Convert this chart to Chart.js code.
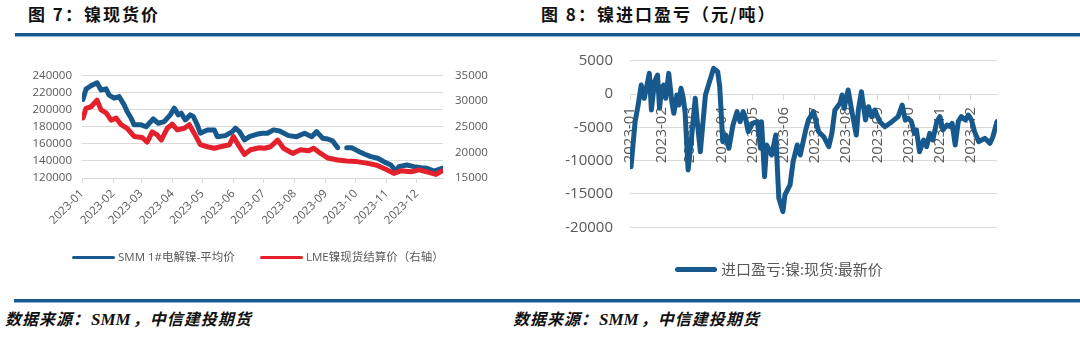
<!DOCTYPE html>
<html><head><meta charset="utf-8">
<script src="https://cdn.jsdelivr.net/npm/chart.js@4"></script>
<style>
body{margin:0;width:1080px;height:339px;background:#fff;position:relative;overflow:hidden;font-family:"Open Sans","Noto Sans CJK SC",sans-serif;}
canvas{position:absolute;top:0;}
.title{position:absolute;top:3px;font-family:"Noto Sans CJK SC";font-weight:700;font-size:17px;letter-spacing:2px;color:#111;line-height:22px;white-space:nowrap;}
.rule{position:absolute;height:3px;background:#17588E;border-bottom:1px solid #8DB2D4;}
.src{position:absolute;top:308px;font-family:"Noto Sans CJK SC";font-weight:700;font-style:italic;font-size:16px;letter-spacing:1px;color:#111;line-height:20px;white-space:nowrap;}
.src i{font-family:"Liberation Serif";font-weight:700;font-size:17px;letter-spacing:0;margin:0 2px 0 1px;}
.leg{position:absolute;white-space:nowrap;color:#595959;font-family:"Open Sans","Noto Sans CJK SC",sans-serif;}
.sw{position:absolute;border-radius:3px;}
</style></head>
<body>
<div class="title" style="left:28px;">图 7：镍现货价</div>
<div class="title" style="left:541px;">图 8：镍进口盈亏（元/吨）</div>
<div class="rule" style="left:15px;top:33px;width:525px;"></div>
<div class="rule" style="left:540px;top:33px;width:540px;"></div>
<div class="rule" style="left:14px;top:299px;width:526px;"></div>
<div class="rule" style="left:540px;top:299px;width:540px;"></div>
<div class="src" style="left:5px;">数据来源：<i>SMM</i>，中信建投期货</div>
<div class="src" style="left:513px;">数据来源：<i>SMM</i>，中信建投期货</div>

<canvas id="c1" width="540" height="300" style="left:0;width:540px;height:300px;"></canvas>
<canvas id="c2" width="540" height="300" style="left:540px;width:540px;height:300px;"></canvas>

<div class="sw" style="left:72px;top:255.5px;width:43px;height:3px;background:#17598C;"></div>
<div class="leg" style="left:118px;top:249px;font-size:11.5px;line-height:16px;">SMM 1#电解镍-平均价</div>
<div class="sw" style="left:260px;top:255.5px;width:43px;height:3px;background:#E3202B;"></div>
<div class="leg" style="left:306px;top:249px;font-size:11.5px;line-height:16px;">LME镍现货结算价（右轴）</div>

<div class="sw" style="left:675px;top:266.5px;width:42px;height:5px;background:#17598C;"></div>
<div class="leg" style="left:721px;top:258px;font-size:15px;line-height:22px;">进口盈亏:镍:现货:最新价</div>

<script>
const monthLabels = ['2023-01','2023-02','2023-03','2023-04','2023-05','2023-06','2023-07','2023-08','2023-09','2023-10','2023-11','2023-12'];

const smmDates = ['2023-01-02','2023-01-05','2023-01-10','2023-01-16','2023-01-20','2023-01-25','2023-01-28','2023-02-02','2023-02-07','2023-02-12','2023-02-15','2023-02-19','2023-02-22','2023-03-01','2023-03-06','2023-03-13','2023-03-18','2023-03-24','2023-03-30','2023-04-03','2023-04-07','2023-04-10','2023-04-14','2023-04-19','2023-04-22','2023-04-26','2023-04-29','2023-05-06','2023-05-13','2023-05-16','2023-05-24','2023-05-31','2023-06-03','2023-06-07','2023-06-12','2023-06-17','2023-06-24','2023-06-30','2023-07-05','2023-07-11','2023-07-17','2023-07-26','2023-08-03','2023-08-11','2023-08-18','2023-08-23','2023-08-29','2023-09-03','2023-09-08','2023-09-13','2023-09-18','2023-09-22','2023-09-27','2023-10-03','2023-10-10','2023-10-16','2023-10-23','2023-10-29','2023-11-05','2023-11-10','2023-11-13','2023-11-21','2023-11-28','2023-12-05','2023-12-11','2023-12-18','2023-12-26'];
const smmValues = [212000,224000,228000,231500,223000,224400,217000,213500,215400,205600,197800,190000,182200,182200,180000,189200,184100,186000,193900,201800,193900,195900,188000,193900,192000,182200,172400,176300,176300,168400,169600,174300,178300,174300,164600,168400,171200,172400,172400,176300,175100,169600,168400,172400,168400,174300,166600,165700,163400,155500,null,155500,155500,151700,147800,145000,143100,139100,135200,128200,133300,135200,133300,132100,131400,128200,131400];

const lmeDates = ['2023-01-02','2023-01-05','2023-01-10','2023-01-16','2023-01-20','2023-01-25','2023-01-30','2023-02-04','2023-02-09','2023-02-15','2023-02-22','2023-03-02','2023-03-07','2023-03-12','2023-03-17','2023-03-21','2023-03-27','2023-04-01','2023-04-06','2023-04-13','2023-04-18','2023-04-23','2023-04-29','2023-05-06','2023-05-13','2023-05-19','2023-05-28','2023-06-01','2023-06-07','2023-06-12','2023-06-18','2023-06-27','2023-07-02','2023-07-08','2023-07-15','2023-07-21','2023-07-30','2023-08-07','2023-08-15','2023-08-20','2023-08-27','2023-09-03','2023-09-13','2023-09-22','2023-10-02','2023-10-12','2023-10-22','2023-11-01','2023-11-08','2023-11-15','2023-11-25','2023-12-03','2023-12-11','2023-12-20','2023-12-26'];
const lmeValues = [26700,28600,28900,30200,28300,27700,26300,26700,25400,24700,23100,22900,22000,24000,23400,22400,24700,25500,24400,24700,25400,23700,21500,21100,20800,21100,21500,23100,21100,19600,20500,20900,20800,21100,22400,20800,19800,20500,20300,20800,19800,18900,18500,18300,18200,17900,17500,16600,15900,16400,16200,16600,16200,15700,16400];

const importDates = ['2023-01-02','2023-01-06','2023-01-09','2023-01-12','2023-01-15','2023-01-17','2023-01-20','2023-01-22','2023-01-25','2023-01-28','2023-01-30','2023-02-01','2023-02-03','2023-02-05','2023-02-08','2023-02-11','2023-02-13','2023-02-16','2023-02-18','2023-02-20','2023-02-22','2023-02-24','2023-02-27','2023-03-02','2023-03-06','2023-03-08','2023-03-11','2023-03-16','2023-03-19','2023-03-24','2023-03-28','2023-03-30','2023-04-02','2023-04-05','2023-04-08','2023-04-12','2023-04-16','2023-04-19','2023-04-22','2023-04-24','2023-04-27','2023-05-01','2023-05-06','2023-05-09','2023-05-10','2023-05-13','2023-05-15','2023-05-20','2023-05-24','2023-05-27','2023-05-31','2023-06-02','2023-06-07','2023-06-10','2023-06-14','2023-06-17','2023-06-22','2023-06-25','2023-06-30','2023-07-05','2023-07-10','2023-07-15','2023-07-18','2023-07-21','2023-07-26','2023-07-28','2023-07-30','2023-08-03','2023-08-07','2023-08-11','2023-08-13','2023-08-16','2023-08-20','2023-08-23','2023-08-26','2023-08-29','2023-09-03','2023-09-08','2023-09-15','2023-09-21','2023-09-25','2023-09-28','2023-10-01','2023-10-04','2023-10-07','2023-10-09','2023-10-12','2023-10-16','2023-10-19','2023-10-22','2023-10-25','2023-10-29','2023-11-01','2023-11-04','2023-11-08','2023-11-11','2023-11-13','2023-11-16','2023-11-19','2023-11-22','2023-11-26','2023-11-29','2023-12-02','2023-12-05','2023-12-09','2023-12-12','2023-12-15','2023-12-20','2023-12-23','2023-12-27'];
const importValues = [-10900,-4150,-1650,1350,-650,850,3100,-2400,1850,2850,-2150,850,1350,-650,3100,-1150,-2900,-150,-1650,850,-400,-2650,-11400,-7150,-650,-4150,-8650,-150,1350,3850,3350,1100,-7150,-6150,-8150,-4650,-2650,-4150,-2650,-3400,-5650,-4400,-4150,-8150,-4150,-12400,-7650,-9150,-6150,-15650,-17650,-15150,-13650,-10150,-7650,-9150,-5650,-3900,-2650,-5650,-6400,-7900,-5900,-2400,-1400,-150,-2150,600,-2900,-6150,-2400,350,-3900,-1900,-3400,-2400,-4150,-4900,-4150,-3400,-1650,-3900,-3650,-4150,-5900,-5400,-8650,-6900,-7900,-5900,-6900,-4150,-3400,-5400,-4650,-4900,-4400,-7650,-4150,-3400,-3900,-3150,-3900,-5650,-7150,-6900,-6650,-7400,-6400,-4150];

const BLUE = '#17598C', RED = '#E3202B', GRID = '#D9D9D9', TXT = '#595959';
const FONT = '"Open Sans","Noto Sans CJK SC",sans-serif';
const DAY = d => (Date.UTC(+d.slice(0,4), +d.slice(5,7)-1, +d.slice(8,10)) - Date.UTC(2023,0,1)) / 86400000;
const pts = (dates, vals) => dates.map((d,i) => ({x: DAY(d), y: vals[i]}));
const monthTicks = s => { s.ticks = monthLabels.map(m => ({value: DAY(m + '-01')})); };
const plain = v => String(v);

new Chart(document.getElementById('c1'), {
  type: 'line',
  data: { datasets: [
    {label:'SMM 1#电解镍-平均价', data: pts(smmDates, smmValues), yAxisID:'y', borderColor: BLUE, borderWidth: 5, pointRadius: 0, spanGaps: false, order: 1, borderJoinStyle:'round', borderCapStyle:'round'},
    {label:'LME镍现货结算价（右轴）', data: pts(lmeDates, lmeValues), yAxisID:'y2', borderColor: RED, borderWidth: 5, pointRadius: 0, order: 0, borderJoinStyle:'round', borderCapStyle:'round'}
  ]},
  options: {
    responsive: false, animation: false, devicePixelRatio: 1,
    layout: {padding: {top: 75.5, left: 0, right: 0, bottom: 0}},
    plugins: {legend: {display: false}, tooltip: {enabled: false}},
    scales: {
      x: {type:'linear', min: 0, max: 360, afterBuildTicks: monthTicks,
          ticks: {autoSkip: false, minRotation: 45, maxRotation: 45, padding: 4, color: TXT, font: {family: FONT, size: 11.5}, callback: (v, i) => monthLabels[i]},
          grid: {drawOnChartArea: false, color: GRID, tickLength: 5}, border: {color: GRID},
          afterFit: s => { s.height = 122; }},
      y: {position: 'left', min: 120000, max: 240000,
          ticks: {stepSize: 20000, padding: 10, color: TXT, font: {family: FONT, size: 11.5}, callback: plain},
          grid: {color: GRID, drawTicks: false}, border: {display: false},
          afterFit: s => { s.width = 82; }},
      y2: {position: 'right', min: 15000, max: 35000,
          ticks: {stepSize: 5000, padding: 12, color: TXT, font: {family: FONT, size: 11.5}, callback: plain},
          grid: {display: false, drawTicks: false}, border: {display: false},
          afterFit: s => { s.width = 97; }}
    }
  }
});

new Chart(document.getElementById('c2'), {
  type: 'line',
  data: { datasets: [
    {label:'进口盈亏:镍:现货:最新价', data: pts(importDates, importValues), borderColor: BLUE, borderWidth: 5, pointRadius: 0, borderJoinStyle:'round', borderCapStyle:'round'}
  ]},
  options: {
    responsive: false, animation: false, devicePixelRatio: 1,
    layout: {padding: {top: 60.7, left: 0, right: 83, bottom: 72.7}},
    plugins: {legend: {display: false}, tooltip: {enabled: false}},
    scales: {
      x: {type:'linear', min: 0, max: 360, position: {y: 0}, afterBuildTicks: monthTicks,
          ticks: {autoSkip: false, minRotation: 90, maxRotation: 90, padding: 8, color: TXT, font: {family: FONT, size: 15}, callback: (v, i) => monthLabels[i]},
          grid: {drawOnChartArea: false, color: GRID, tickLength: 5}, border: {color: GRID},
          afterFit: s => { s.height = 0; }},
      y: {min: -20000, max: 5000,
          ticks: {stepSize: 5000, padding: 17, color: TXT, font: {family: FONT, size: 15}, callback: plain},
          grid: {color: GRID, drawTicks: false}, border: {display: false},
          afterFit: s => { s.width = 90; }}
    }
  }
});
</script>
</body></html>
